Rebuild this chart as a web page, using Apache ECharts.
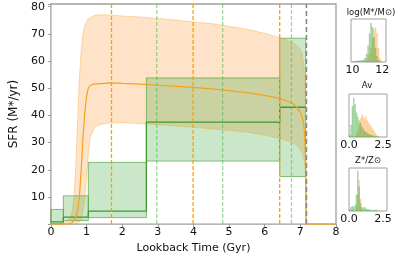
<!DOCTYPE html>
<html><head><meta charset="utf-8">
<script src="https://cdn.jsdelivr.net/npm/echarts@6/dist/echarts.min.js"></script>
<style>html,body{margin:0;padding:0;background:#fff}#c{width:399px;height:259px}</style>
</head><body><div id="c"></div>
<script>
// ---- main panel: orange model (continuous SFH) ----
const tOr  = [0, 0.3, 0.5, 0.55, 0.6, 0.65, 0.7, 0.75, 0.8, 0.85, 0.9, 0.95, 1.0, 1.05, 1.1, 1.2, 1.3, 1.5, 1.7, 2.0, 2.5, 3.0, 3.5, 4.0, 4.5, 5.0, 5.5, 6.0, 6.42, 6.6, 6.8, 6.9, 7.0, 7.05, 7.1, 7.13, 7.15, 7.16, 8.0];
const orHi = [0, 0.2, 1.5, 3, 5, 10, 22, 38, 54, 64, 70, 73, 74.5, 75.5, 76, 76.7, 77, 77, 76.9, 76.6, 76.2, 75.7, 75.1, 74.4, 73.8, 72.8, 71.7, 70.2, 68.6, 67.8, 66.6, 65.8, 64.3, 62.8, 58, 50, 35, 0, 0];
const orMed= [0, 0, 0.1, 0.3, 0.6, 1.2, 2.5, 5, 10, 20, 32, 41, 47, 50, 51, 51.5, 51.6, 51.8, 52, 51.8, 51.5, 51.1, 50.7, 50.3, 49.8, 49.1, 48.4, 47.4, 46.2, 45.4, 44.2, 43, 41, 39.5, 36, 30, 20, 0, 0];
const orLo = [0, 0, 0, 0, 0, 0, 0, 0, 0.8, 2, 4.5, 9, 17, 26, 31.5, 35, 36.3, 37, 37.2, 37.3, 37, 36.6, 36.1, 35.6, 35.1, 34.5, 33.8, 32.8, 31.5, 30.8, 29.8, 29, 27.5, 26.2, 24, 21, 15, 0, 0];
// ---- main panel: green model (binned SFH) ----
const gEdges = [0, 0.35, 1.05, 2.68, 6.42, 7.15];
const gLo  = [0.2, 1.3, 2.4, 23.2, 17.5];
const gMed = [0.8, 2.6, 4.8, 37.5, 43.0];
const gHi  = [5.4, 10.4, 22.7, 53.8, 68.4];
// ---- vertical reference lines ----
const orVlines = [1.70, 3.99, 6.42];
const gVlines  = [2.97, 4.82, 6.75];
const grayVline = [7.17];
// ---- axes ----
const xTicks = [0,1,2,3,4,5,6,7,8];
const yTicks = [10,20,30,40,50,60,70,80];
// ---- inset histograms ----
const hmX = [10.05,10.15,10.25,10.35,10.45,10.55,10.65,10.75,10.85,10.95,11.05,11.15,11.25,11.35,11.45,11.55,11.65,11.75,11.85,11.95];
const hmGreen = [0.02,0.02,0.03,0.03,0.04,0.04,0.05,0.06,0.1,0.2,0.4,0.7,0.95,0.85,0.6,0.35,0.15,0.05,0.02,0];
const hmOrange= [0,0,0,0,0,0,0,0,0.02,0.05,0.1,0.2,0.35,0.6,0.8,0.85,0.7,0.35,0.1,0.02];
const avX = [0.05,0.15,0.25,0.35,0.45,0.55,0.65,0.75,0.85,0.95,1.05,1.15,1.25,1.35,1.45,1.55,1.65,1.75,1.85,1.95,2.05,2.15,2.25];
const avGreen = [0.05,0.3,0.75,0.95,0.8,0.6,0.5,0.4,0.35,0.25,0.2,0.15,0.12,0.1,0.08,0.06,0.05,0.04,0.03,0.02,0.02,0.01,0];
const avOrange= [0,0,0,0,0,0.05,0.15,0.3,0.45,0.55,0.5,0.45,0.5,0.4,0.35,0.3,0.25,0.2,0.15,0.1,0.05,0.02,0];
const zX = [0.05,0.15,0.25,0.35,0.45,0.55,0.65,0.75,0.85,0.95,1.05,1.15,1.25,1.35,1.45,1.55,1.65,1.75,1.85,1.95,2.05,2.15];
const zGreen = [0.05,0.1,0.12,0.1,0.15,0.4,0.98,0.6,0.2,0.1,0.08,0.1,0.06,0.05,0.04,0.03,0.03,0.02,0.02,0.03,0.02,0.01];
const zOrange= [0,0,0,0,0,0.1,0.4,0.75,0.3,0.05,0,0,0,0,0,0,0,0,0,0,0,0];

const ORANGE = '#f5a31f';
const OR_FILL = 'rgba(255,153,51,0.27)';
const OR_EDGE = 'rgba(245,163,31,0.45)';
const GREEN = '#3f9a2f';
const G_FILL = 'rgba(44,160,44,0.25)';
const G_EDGE = 'rgba(63,154,47,0.6)';
const FONT = 'DejaVu Sans';
const AX = '#a0a0a0';

const pairs = (xs, ys) => xs.map((x, i) => [x, ys[i]]);
function steps(edges, vals) {
  const out = [];
  vals.forEach((v, i) => { out.push([edges[i], v]); out.push([edges[i + 1], v]); });
  return out;
}

const series = [];
series.push({
  type: 'custom', xAxisIndex: 0, yAxisIndex: 0, z: 1, silent: true, clip: true,
  data: [[0, 0]],
  renderItem(params, api) {
    const pts = [];
    for (let i = 0; i < tOr.length; i++) pts.push(api.coord([tOr[i], orHi[i]]));
    for (let i = tOr.length - 1; i >= 0; i--) pts.push(api.coord([tOr[i], orLo[i]]));
    return { type: 'polygon', shape: { points: pts }, style: { fill: OR_FILL, stroke: null } };
  }
});
series.push({
  type: 'custom', xAxisIndex: 0, yAxisIndex: 0, z: 2, silent: true, clip: true,
  data: gLo.map((l, i) => [gEdges[i], gEdges[i + 1], l, gHi[i]]),
  encode: { x: [0, 1], y: [2, 3] },
  renderItem(params, api) {
    const a = api.coord([api.value(0), api.value(3)]);
    const b = api.coord([api.value(1), api.value(2)]);
    return { type: 'rect', shape: { x: a[0], y: a[1], width: b[0] - a[0], height: b[1] - a[1] },
      style: { fill: G_FILL, stroke: G_EDGE, lineWidth: 1 } };
  }
});
[orHi, orLo].forEach(arr => series.push({
  type: 'line', xAxisIndex: 0, yAxisIndex: 0, z: 3, silent: true, showSymbol: false,
  data: pairs(tOr, arr), lineStyle: { color: OR_EDGE, width: 0.8 }
}));
series.push({
  type: 'line', xAxisIndex: 0, yAxisIndex: 0, z: 4, silent: true, showSymbol: false,
  data: steps(gEdges, gMed), lineStyle: { color: GREEN, width: 1.3 }
});
series.push({
  type: 'line', xAxisIndex: 0, yAxisIndex: 0, z: 5, silent: true, showSymbol: false,
  data: pairs(tOr, orMed), lineStyle: { color: ORANGE, width: 1.2 }
});
function vlines(xs, color, dash, width, z) {
  return {
    type: 'custom', xAxisIndex: 0, yAxisIndex: 0, z, silent: true, clip: true,
    data: xs.map(x => [x, 0]),
    renderItem(params, api) {
      const a = api.coord([api.value(0), 0]);
      const b = api.coord([api.value(0), 81]);
      return { type: 'line', shape: { x1: a[0], y1: a[1], x2: a[0], y2: b[1] },
        style: { stroke: color, lineWidth: width, lineDash: dash } };
    }
  };
}
series.push(vlines(orVlines, '#ffa000', [4, 2], 1.3, 6));
series.push(vlines(gVlines, 'rgba(90,190,90,0.6)', [4, 2], 1.3, 6));
series.push(vlines(grayVline, '#888888', [5, 3], 1.6, 7));

function hist(xs, ys, w, color, idx, z) {
  return {
    type: 'custom', xAxisIndex: idx, yAxisIndex: idx, z, silent: true, clip: true,
    data: pairs(xs, ys),
    renderItem(params, api) {
      const x = api.value(0), v = api.value(1);
      if (!v) return null;
      const a = api.coord([x - w / 2, v]);
      const b = api.coord([x + w / 2, 0]);
      return { type: 'rect', shape: { x: a[0], y: a[1], width: b[0] - a[0], height: b[1] - a[1] },
        style: { fill: color } };
    }
  };
}
const HG = 'rgba(60,170,60,0.5)', HO = 'rgba(255,160,50,0.5)';
series.push(hist(hmX, hmOrange, 0.1, HO, 2, 1), hist(hmX, hmGreen, 0.1, HG, 2, 2));
series.push(hist(avX, avOrange, 0.1, HO, 3, 1), hist(avX, avGreen, 0.1, HG, 3, 2));
series.push(hist(zX, zOrange, 0.1, HO, 4, 1), hist(zX, zGreen, 0.1, HG, 4, 2));

const insetTop = [19, 94, 168];
const insetLeft = [351, 349, 349];
const insetW = [35, 38, 38];
const insetRange = [[9.9, 12.25], [0, 2.8], [0, 2.8]];
const insetLbl = [[10, 12], [0, 2.5], [0, 2.5]];
const insetTitle = ['log(M*/M⊙)', 'Av', 'Z*/Z⊙'];
const titleCenter = [[371, 13], [367, 86], [368, 161]];

const grids = [{ left: 30, top: 4, width: 306, height: 223.6, show: true, borderColor: AX, borderWidth: 1.3, backgroundColor: 'transparent' }];
insetTop.forEach((t, i) => grids.push({ left: insetLeft[i], top: t, width: insetW[i], height: 43, show: true, borderColor: AX, borderWidth: 1 }));

const xAxes = [
  { gridIndex: 0, type: 'value', min: 0, max: 8, interval: 1, splitLine: { show: false },
    axisLine: { show: false }, axisTick: { show: true, length: 3, lineStyle: { color: AX } },
    axisLabel: { fontSize: 11, color: '#111', fontFamily: FONT, margin: 3, customValues: xTicks },
    name: 'Lookback Time (Gyr)', nameLocation: 'middle', nameGap: 15,
    nameTextStyle: { fontSize: 11, color: '#111', fontFamily: FONT } },
  { gridIndex: 0, type: 'value', position: 'top', min: 0, max: 8, interval: 1, splitLine: { show: false },
    axisLine: { show: false }, axisTick: { show: true, inside: true, length: 3, lineStyle: { color: AX } },
    axisLabel: { show: false } }
];
const yAxes = [
  { gridIndex: 0, type: 'value', min: 0, max: 81, interval: 10, splitLine: { show: false },
    axisLine: { show: false }, axisTick: { show: true, length: 3, lineStyle: { color: AX } },
    axisLabel: { fontSize: 11, color: '#111', fontFamily: FONT, margin: 6, customValues: yTicks },
    name: 'SFR (M*/yr)', nameLocation: 'middle', nameGap: 23, nameRotate: 90,
    nameTextStyle: { fontSize: 12, color: '#111', fontFamily: FONT } },
  { gridIndex: 0, type: 'value', position: 'right', min: 0, max: 81, interval: 10, splitLine: { show: false },
    axisLine: { show: false }, axisTick: { show: true, inside: true, length: 3, lineStyle: { color: AX }, customValues: yTicks },
    axisLabel: { show: false } }
];
insetTop.forEach((t, i) => {
  xAxes.push({ gridIndex: i + 1, type: 'value', min: insetRange[i][0], max: insetRange[i][1], splitLine: { show: false },
    axisLine: { show: false }, axisTick: { show: false },
    axisLabel: { fontSize: 11, color: '#111', fontFamily: FONT, margin: 3, customValues: insetLbl[i],
      formatter: v => (i === 0 ? String(v) : v.toFixed(1)) } });
  yAxes.push({ gridIndex: i + 1, type: 'value', min: 0, max: 1.05, show: false });
});

const graphics = insetTitle.map((txt, i) => ({
  type: 'text', x: titleCenter[i][0], y: titleCenter[i][1],
  style: { text: txt, align: 'center', verticalAlign: 'middle', fontSize: 8.5, fontFamily: FONT, fill: '#111' }
}));

const chart = echarts.init(document.getElementById('c'));
chart.setOption({
  animation: false,
  grid: grids, xAxis: xAxes, yAxis: yAxes, series,
  graphic: graphics
});
</script></body></html>
